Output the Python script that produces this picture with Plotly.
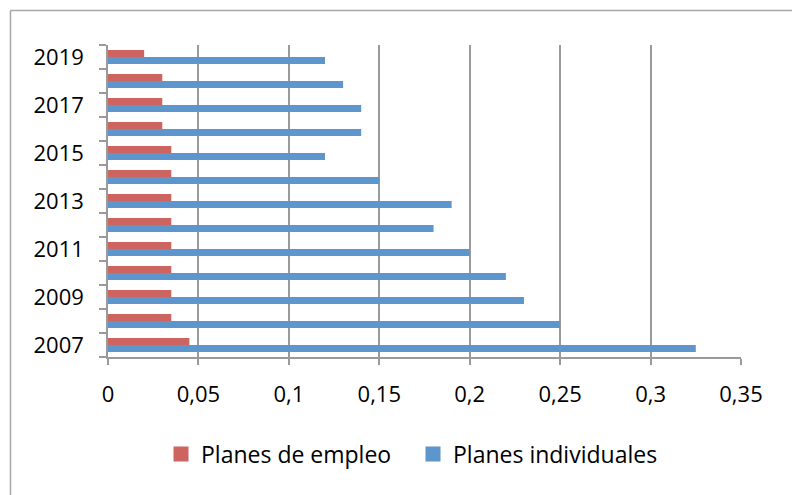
import plotly.graph_objects as go

# Years (bottom to top) and the two series
years = ["2007", "2008", "2009", "2010", "2011", "2012", "2013",
         "2014", "2015", "2016", "2017", "2018", "2019"]
year_labels = ["2007", "", "2009", "", "2011", "", "2013",
               "", "2015", "", "2017", "", "2019"]
planes_empleo = [0.045, 0.035, 0.035, 0.035, 0.035, 0.035, 0.035,
                 0.035, 0.035, 0.03, 0.03, 0.03, 0.02]
planes_individuales = [0.325, 0.25, 0.23, 0.22, 0.20, 0.18, 0.19,
                       0.15, 0.12, 0.14, 0.14, 0.13, 0.12]
x_ticks = [0, 0.05, 0.1, 0.15, 0.2, 0.25, 0.3, 0.35]

W, H = 792, 495
L, R, T, B = 108, 51, 45, 138
pw, ph = W - L - R, H - T - B

RED = "#CD645F"
BLUE = "#5D96CC"
GRID = "#9A9A9A"
FONT = "Open Sans"

fig = go.Figure()
fig.add_trace(go.Bar(name="Planes individuales", y=years, x=planes_individuales,
                     orientation="h", showlegend=False,
                     marker=dict(color=BLUE, line=dict(width=0))))
fig.add_trace(go.Bar(name="Planes de empleo", y=years, x=planes_empleo,
                     orientation="h", showlegend=False,
                     marker=dict(color=RED, line=dict(width=0))))


def px_to_paper_x(p):
    return (p - L) / pw


def px_to_paper_y(p):
    return 1 - (p - T) / ph


# Legend entries with square swatches, each in its own legend box
for name, color, leg in [("Planes de empleo", RED, "legend"),
                         ("Planes individuales", BLUE, "legend2")]:
    fig.add_trace(go.Scatter(name=name, x=[None], y=[None], mode="markers",
                             marker=dict(symbol="square", size=15, color=color),
                             showlegend=True, hoverinfo="skip", legend=leg))

# Outer frame (top and left edges visible)
fig.add_shape(type="line", xref="paper", yref="paper",
              x0=px_to_paper_x(10.5), x1=px_to_paper_x(800),
              y0=px_to_paper_y(10.5), y1=px_to_paper_y(10.5),
              line=dict(color="#A6A6A6", width=1.5))
fig.add_shape(type="line", xref="paper", yref="paper",
              x0=px_to_paper_x(10.5), x1=px_to_paper_x(10.5),
              y0=px_to_paper_y(10.5), y1=px_to_paper_y(505),
              line=dict(color="#A6A6A6", width=1.5))

legend_common = dict(orientation="h", xanchor="left", yanchor="middle",
                     y=px_to_paper_y(454),
                     font=dict(family=FONT, size=23, color="#000000"),
                     itemwidth=30, bgcolor="rgba(0,0,0,0)")

fig.update_layout(
    width=W, height=H,
    margin=dict(l=L, r=R, t=T, b=B, pad=0),
    paper_bgcolor="white", plot_bgcolor="white",
    barmode="group", bargap=0.42, bargroupgap=0,
    separators=",.",
    font=dict(family=FONT, size=22, color="#000000"),
    showlegend=True,
    legend=dict(x=px_to_paper_x(161), **legend_common),
    legend2=dict(x=px_to_paper_x(413), **legend_common),
    xaxis=dict(range=[0, 0.35], tickvals=x_ticks, showgrid=True,
               gridcolor=GRID, gridwidth=1.5, zeroline=False,
               showline=True, linecolor=GRID, linewidth=1.5,
               ticks="outside", ticklen=6, tickcolor=GRID, tickwidth=1.5,
               ticklabelstandoff=11, fixedrange=True),
    yaxis=dict(type="category", categoryorder="array", categoryarray=years,
               tickmode="array", tickvals=years, ticktext=year_labels,
               tickson="boundaries", ticks="outside", ticklen=7,
               tickcolor=GRID, tickwidth=1.5, showgrid=False,
               showline=True, linecolor=GRID, linewidth=1.5,
               ticklabelstandoff=18, fixedrange=True),
)

fig.write_html("out.html")
